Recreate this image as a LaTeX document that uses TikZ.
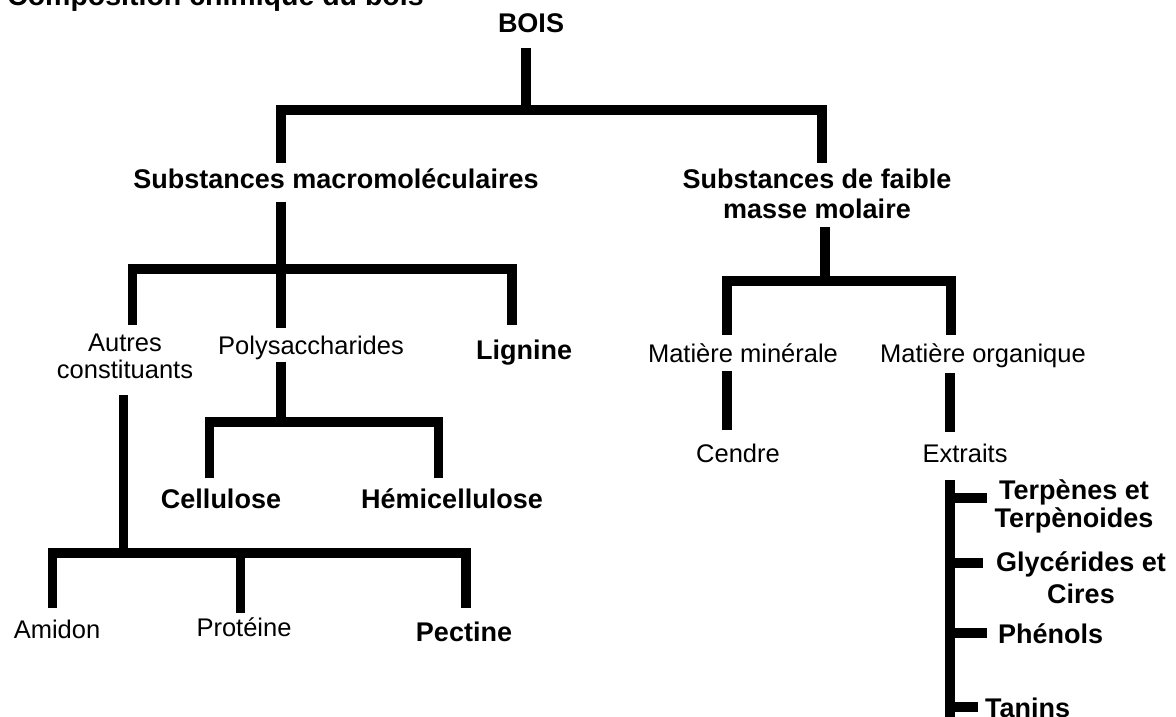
\documentclass[tikz,border=0pt]{standalone}
\usepackage{fontspec}
\setmainfont{Liberation Sans}
\begin{document}
\begin{tikzpicture}[x=1pt,y=-1pt,
  conn/.style={line width=9.5pt, line join=miter, line cap=butt},
  lbl/.style={inner sep=0pt, anchor=base, font=\fontsize{25.5}{27}\selectfont},
  blbl/.style={inner sep=0pt, anchor=base, font=\fontsize{27}{30}\selectfont\bfseries}]
\useasboundingbox (0,0) rectangle (1176,717);
\clip (0,0) rectangle (1176,717);
\fill[white] (0,0) rectangle (1176,717);

% texts (multi-line nodes: base = baseline of last line)
\node[blbl, anchor=base west, font=\fontsize{28.5}{30}\selectfont\bfseries] (title) at (7,6) {Composition chimique du bois};
\node[blbl] (bois) at (531,33) {BOIS};
\node[blbl] (macro) at (336,188) {Substances macromoléculaires};
\node[blbl, align=center] (faible) at (817,218) {Substances de faible\\masse molaire};
\node[lbl, align=center] (autres) at (125,378) {Autres\\constituants};
\node[lbl] (poly) at (311,354) {Polysaccharides};
\node[blbl] (lignine) at (524,359) {Lignine};
\node[blbl] (cell) at (221,508) {Cellulose};
\node[blbl] (hemi) at (452,508) {Hémicellulose};
\node[lbl] (amidon) at (57,638) {Amidon};
\node[lbl] (prot) at (244,636) {Protéine};
\node[blbl] (pect) at (464,641) {Pectine};
\node[lbl] (minerale) at (743,362) {Matière minérale};
\node[lbl] (organique) at (983,362) {Matière organique};
\node[lbl] (cendre) at (738,462) {Cendre};
\node[lbl] (extraits) at (965,462) {Extraits};
\node[blbl, align=center] (terp) at (1074,527) {Terpènes et\\[-2pt]Terpènoides};
\node[blbl, align=center] (glyc) at (1081,603) {Glycérides et\\[2pt]Cires};
\node[blbl, anchor=base west] (phen) at (998,643) {Phénols};
\node[blbl, anchor=base west] (tan) at (985,717) {Tanins};

% BOIS
\coordinate (bois-d) at (526,48);
\coordinate (b-j) at (526,110);
\coordinate (macro-u) at (281,163);
\coordinate (faible-u) at (822,163);
\draw[conn] (bois-d) -- (b-j);
\draw[conn] (macro-u) -- (macro-u |- b-j) -- (faible-u |- b-j) -- (faible-u);

% macro
\coordinate (macro-d) at (281,202);
\coordinate (m-j) at (281,269);
\coordinate (autres-u) at (132.5,325);
\coordinate (poly-u) at (281,328);
\coordinate (lignine-u) at (512,325);
\draw[conn] (macro-d) -- (poly-u);
\draw[conn] (autres-u) -- (autres-u |- m-j) -- (lignine-u |- m-j) -- (lignine-u);

% polysaccharides
\coordinate (poly-d) at (281,362);
\coordinate (p-j) at (281,422);
\coordinate (cell-u) at (209.5,478);
\coordinate (hemi-u) at (438.5,478);
\draw[conn] (poly-d) -- (p-j);
\draw[conn] (cell-u) -- (cell-u |- p-j) -- (hemi-u |- p-j) -- (hemi-u);

% autres constituants
\coordinate (autres-d) at (123.5,395);
\coordinate (a-j) at (123.5,553);
\coordinate (amidon-u) at (52.5,608);
\coordinate (prot-u) at (240.5,613);
\coordinate (pect-u) at (466,608);
\draw[conn] (autres-d) -- (a-j);
\draw[conn] (amidon-u) -- (amidon-u |- a-j) -- (pect-u |- a-j) -- (pect-u);
\draw[conn] (prot-u) -- (prot-u |- a-j);

% faible masse molaire
\coordinate (faible-d) at (825,227);
\coordinate (f-j) at (825,281);
\coordinate (minerale-u) at (727,335);
\coordinate (organique-u) at (951,335);
\draw[conn] (faible-d) -- (f-j);
\draw[conn] (minerale-u) -- (minerale-u |- f-j) -- (organique-u |- f-j) -- (organique-u);

% matieres
\coordinate (minerale-d) at (727,371);
\coordinate (cendre-u) at (727,430);
\coordinate (organique-d) at (950,373);
\coordinate (extraits-u) at (950,432);
\draw[conn] (minerale-d) -- (cendre-u);
\draw[conn] (organique-d) -- (extraits-u);

% extraits
\coordinate (extraits-d) at (950,480);
\coordinate (extraits-end) at (950,725);
\coordinate (terp-l) at (987,498);
\coordinate (glyc-l) at (983,563);
\coordinate (phen-l) at (987,633);
\coordinate (tan-l) at (978,707);
\draw[conn] (extraits-d) -- (extraits-end);
\draw[conn] (terp-l -| extraits-d) -- (terp-l);
\draw[conn] (glyc-l -| extraits-d) -- (glyc-l);
\draw[conn] (phen-l -| extraits-d) -- (phen-l);
\draw[conn] (tan-l -| extraits-d) -- (tan-l);
\end{tikzpicture}
\end{document}
